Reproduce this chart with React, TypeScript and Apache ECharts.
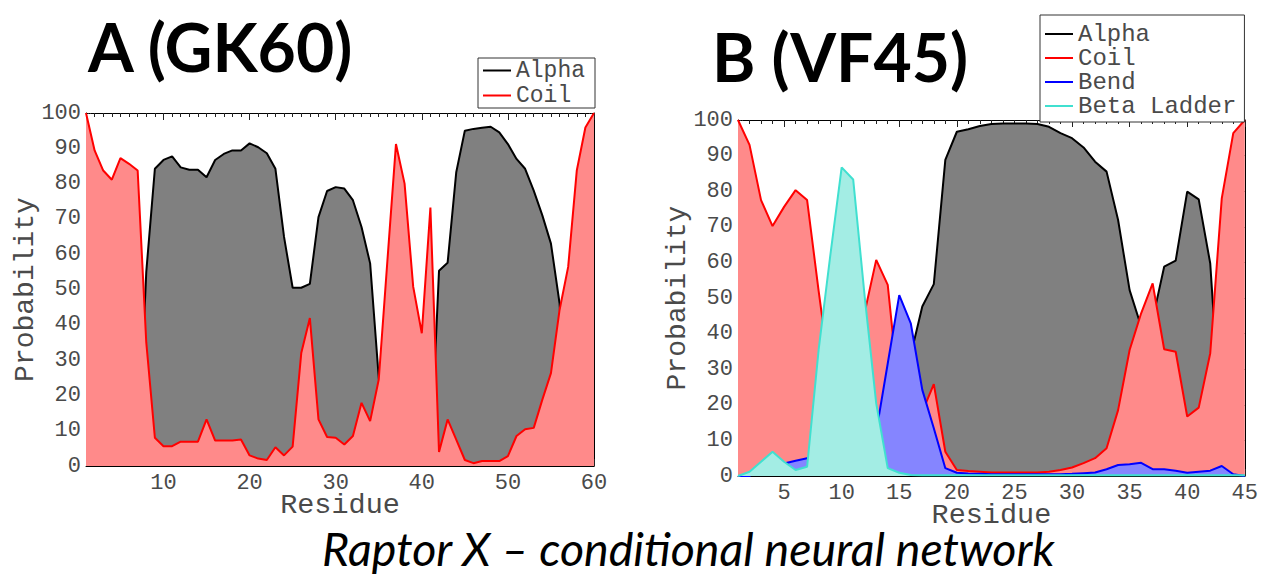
import React, { useEffect, useRef } from "react";
import * as echarts from "echarts";

// ---------- DATA ----------
// Panel A (GK60): residues 1..60
const alphaA = [
  0, 0, 0, 0, 0, 0, 0, 55, 84.2, 86.7,
  87.7, 84.6, 83.9, 83.9, 81.8, 86.7, 88.4, 89.4, 89.4, 91.4,
  90.3, 88.6, 84.2, 64.9, 50.5, 50.5, 51.6, 70.5, 77.9, 79.0,
  78.6, 75.3, 67.7, 57.4, 25, 2, 1, 1, 2, 2,
  1, 55.3, 57.6, 83.2, 95, 95.5, 95.8, 96.1, 94.5, 91.2,
  87, 84.2, 78, 71, 63, 46.1, 2, 1, 0, 0,
];
const coilA = [
  100, 89.4, 83.7, 81.1, 87.2, 85.6, 83.7, 35, 8.0, 5.6,
  5.6, 6.9, 6.9, 6.9, 13.2, 7.2, 7.2, 7.2, 7.5, 3.0,
  2.1, 1.7, 5.3, 3.0, 5.5, 32, 41.9, 13.2, 8.2, 8.0,
  6.1, 8.5, 17.9, 12.7, 24.5, 58, 91.2, 80, 50.8, 37.6,
  73.2, 4.0, 13.2, 7.5, 1.7, 0.8, 1.4, 1.4, 1.4, 2.8,
  8.5, 10.4, 10.8, 18.8, 26.3, 44.2, 56.4, 83.7, 95.9, 100,
];
// Panel B (VF45): residues 1..45
const alphaB = [
  0, 0, 0, 0, 0, 0, 0, 0, 0, 0,
  0, 0, 0, 3, 15, 34, 47.6, 53.9, 88.8, 96.7,
  97.4, 98.3, 98.9, 99, 99, 99, 98.9, 98.1, 96.3, 94.9,
  92.3, 88.3, 85.5, 71.9, 52.2, 42, 44, 58.8, 60.5, 79.9,
  77.7, 59.7, 10, 0, 0,
];
const coilB = [
  100, 93, 77.5, 70.2, 75.6, 80.3, 77.5, 52, 28, 20,
  25, 46, 60.7, 53.7, 22, 20, 18, 25.8, 6.8, 1.7,
  1.4, 1.2, 1.0, 1.0, 1.0, 1.0, 1.0, 1.2, 1.7, 2.4,
  3.6, 5.0, 7.8, 18.5, 35.4, 45.7, 54.1, 35.6, 34.9, 16.7,
  19.2, 34.5, 78, 96.3, 100,
];
const bendB = [
  0, 0, 2, 3, 3.5, 4.3, 5.0, 5, 4, 3,
  3, 5, 12.4, 31.6, 50.8, 42.9, 24.2, 13.4, 2.2, 0.9,
  0.7, 0.6, 0.5, 0.5, 0.5, 0.5, 0.5, 0.5, 0.5, 0.6,
  0.8, 1.0, 1.9, 3.1, 3.3, 3.7, 1.9, 1.9, 1.5, 0.9,
  1.2, 1.5, 2.8, 0.5, 0,
];
const betaB = [
  0, 1.2, 4.0, 6.8, 4.0, 1.7, 2.6, 35.4, 61.6, 86.7,
  83.3, 50.4, 20.4, 2.2, 0.9, 0.3, 0.2, 0.2, 0.2, 0.2,
  0.2, 0.2, 0.2, 0.2, 0.2, 0.2, 0.2, 0.2, 0.2, 0.2,
  0.2, 0.2, 0.2, 0.2, 0.2, 0.2, 0.2, 0.2, 0.2, 0.2,
  0.2, 0.2, 0.2, 0.2, 0.2,
];
const ticksA = [10, 20, 30, 40, 50, 60];
const ticksB = [5, 10, 15, 20, 25, 30, 35, 40, 45];
const titleA = "A (GK60)";
const titleB = "B (VF45)";
const caption = "Raptor X \u2013 conditional neural network";
const legendA = ["Alpha", "Coil"];
const legendB = ["Alpha", "Coil", "Bend", "Beta Ladder"];

const MONO = "'Liberation Mono', 'DejaVu Sans Mono', monospace";
const TXT = "#4a4a4a";

const toPairs = (arr: number[]) => arr.map((v, i) => [i + 1, v]);

function xAxes(grid: number, max: number, major: number[]) {
  const base = { gridIndex: grid, type: "value", min: 1, max, splitLine: { show: false } };
  return [
    {
      ...base,
      position: "bottom",
      axisLine: { show: true, lineStyle: { color: "#000", width: 1 } },
      axisTick: { show: true, inside: true, length: 7, customValues: major, lineStyle: { color: "#222" } },
      axisLabel: { show: true, customValues: major, fontFamily: MONO, fontSize: 22, color: TXT, margin: 6 },
      name: "Residue",
      nameLocation: "middle",
      nameGap: 25,
      nameMoveOverlap: false,
      nameTextStyle: { fontFamily: MONO, fontSize: 28.5, color: TXT },
    },
    {
      ...base,
      position: "bottom",
      interval: 1,
      axisLine: { show: false },
      axisTick: { show: true, inside: true, length: 4, lineStyle: { color: "#222" } },
      axisLabel: { show: false },
    },
    {
      ...base,
      position: "top",
      axisLine: { show: true, lineStyle: { color: "#000", width: 1 } },
      axisTick: { show: true, inside: true, length: 7, customValues: major, lineStyle: { color: "#222" } },
      axisLabel: { show: false },
    },
    {
      ...base,
      position: "top",
      interval: 1,
      axisLine: { show: false },
      axisTick: { show: true, inside: true, length: 4, lineStyle: { color: "#222" } },
      axisLabel: { show: false },
    },
  ];
}

function yAxes(grid: number, nameGap: number) {
  const base = { gridIndex: grid, type: "value", min: 0, max: 100, interval: 10, splitLine: { show: false } };
  return [
    {
      ...base,
      position: "left",
      axisLine: { show: true, lineStyle: { color: "#000", width: 1 } },
      axisTick: { show: true, inside: true, length: 5, lineStyle: { color: "#333", type: "dotted" } },
      axisLabel: { fontFamily: MONO, fontSize: 22, color: TXT, margin: 5 },
      name: "Probability",
      nameLocation: "middle",
      nameGap,
      nameMoveOverlap: false,
      nameRotate: 90,
      nameTextStyle: { fontFamily: MONO, fontSize: 28, color: TXT },
    },
    {
      ...base,
      position: "right",
      axisLine: { show: true, lineStyle: { color: "#000", width: 1 } },
      axisTick: { show: true, inside: true, length: 5, lineStyle: { color: "#333", type: "dotted" } },
      axisLabel: { show: false },
    },
  ];
}

function areaSeries(name: string, data: number[], line: string, fill: string, xi: number, yi: number, z: number) {
  return {
    type: "line",
    name,
    z,
    data: toPairs(data),
    xAxisIndex: xi,
    yAxisIndex: yi,
    showSymbol: false,
    symbol: "none",
    lineStyle: { color: line, width: 2 },
    itemStyle: { color: line },
    areaStyle: { color: fill, opacity: 1 },
  };
}

const legendCommon = {
  orient: "vertical",
  icon: "rect",
  itemWidth: 28,
  itemHeight: 2,
  borderColor: "#333",
  borderWidth: 1,
  backgroundColor: "#fff",
  selectedMode: false,
};

export default function App() {
  const ref = useRef<HTMLDivElement>(null);
  useEffect(() => {
    if (!ref.current) return;
    const chart = echarts.init(ref.current, undefined, { renderer: "svg" });
    chart.setOption({
      animation: false,
      backgroundColor: "#fff",
      grid: [
        { left: 86, top: 113, width: 508, height: 353 },
        { left: 738, top: 120, width: 508, height: 356 },
      ],
      xAxis: [...xAxes(0, 60, ticksA), ...xAxes(1, 45, ticksB)],
      yAxis: [...yAxes(0, 47), ...yAxes(1, 47)],
      legend: [
        {
          ...legendCommon,
          data: legendA,
          left: 478,
          top: 58,
          itemGap: 2,
          padding: [1, 10, 1, 5],
          textStyle: { fontFamily: MONO, fontSize: 23, lineHeight: 22, color: TXT },
        },
        {
          ...legendCommon,
          data: legendB,
          left: 1040,
          top: 15,
          itemGap: 0,
          padding: [7, 8, 4, 5],
          textStyle: { fontFamily: MONO, fontSize: 24, lineHeight: 22, color: TXT },
        },
      ],
      series: [
        areaSeries("Alpha", alphaA, "#000000", "#808080", 0, 0, 2),
        areaSeries("Coil", coilA, "#ff0000", "#ff8a8a", 0, 0, 3),
        areaSeries("Alpha", alphaB, "#000000", "#808080", 4, 2, 2),
        areaSeries("Coil", coilB, "#ff0000", "#ff8a8a", 4, 2, 3),
        areaSeries("Bend", bendB, "#0000ff", "#8585ff", 4, 2, 4),
        areaSeries("Beta Ladder", betaB, "#40e0d0", "#a3ede4", 4, 2, 5),
      ],
      graphic: [
        {
          type: "text",
          left: 88,
          top: 13,
          style: { text: titleA, font: "bold 66px Lato", fill: "#000" },
        },
        {
          type: "text",
          left: 712,
          top: 23,
          style: { text: titleB, font: "bold 66px Lato", fill: "#000" },
        },
        {
          type: "text",
          left: 322,
          top: 524,
          style: { text: caption, font: "italic 46.5px Lato", fill: "#000" },
        },
      ],
    });
    return () => chart.dispose();
  }, []);
  return (
    <div
      ref={ref}
      style={{ position: "fixed", left: 0, top: 0, width: 1261, height: 576, background: "#fff" }}
    />
  );
}
